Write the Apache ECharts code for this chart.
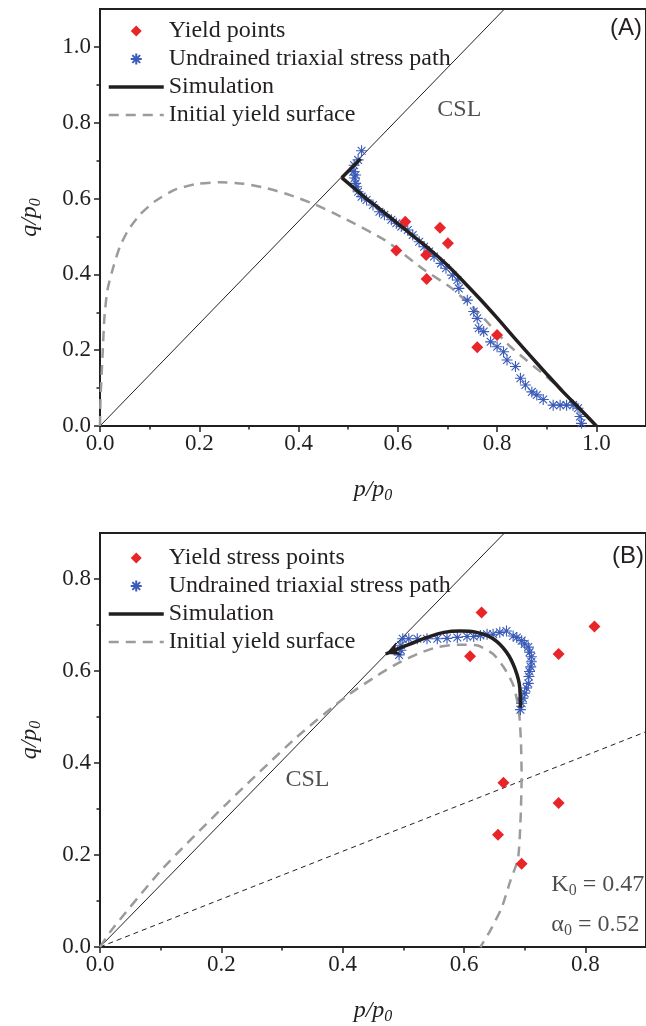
<!DOCTYPE html>
<html>
<head>
<meta charset="utf-8">
<script src="https://cdn.jsdelivr.net/npm/echarts@6/dist/echarts.min.js"></script>
<style>
  html, body { margin: 0; padding: 0; background: #fff; }
  #chart { width: 646px; height: 1026px; }
</style>
</head>
<body>
<div id="chart"></div>
<script>
// ---------- (A) data ----------
const cslSlope = 1.35;

const yieldPointsA = [[0.615,0.539],[0.685,0.523],[0.701,0.482],[0.597,0.463],[0.657,0.451],[0.658,0.388],[0.80,0.240],[0.76,0.208]];

const stressPathA = [[0.970,0.007],[0.967,0.025],[0.963,0.047],[0.953,0.055],[0.940,0.055],[0.927,0.055],[0.913,0.055],
  [0.893,0.070],[0.880,0.082],[0.870,0.090],[0.857,0.108],[0.847,0.126],[0.837,0.157],[0.820,0.174],[0.813,0.196],
  [0.800,0.209],[0.787,0.222],[0.773,0.249],[0.763,0.258],[0.760,0.284],[0.753,0.302],[0.740,0.332],[0.723,0.363],
  [0.720,0.385],[0.710,0.398],[0.697,0.416],[0.687,0.429],[0.673,0.447],[0.663,0.460],[0.653,0.473],[0.643,0.486],
  [0.630,0.504],[0.620,0.517],[0.607,0.526],[0.597,0.535],[0.587,0.544],[0.573,0.557],[0.563,0.565],[0.550,0.583],
  [0.537,0.596],[0.527,0.605],[0.520,0.618],[0.517,0.631],[0.515,0.640],[0.513,0.654],[0.515,0.662],[0.510,0.671],
  [0.512,0.688],[0.520,0.702],[0.527,0.726]];

// loading branch up to the critical state, then the short climb along the CSL
const simulationA = [[1.000,0.000],[0.967,0.045],[0.933,0.090],[0.900,0.137],[0.867,0.185],[0.833,0.235],[0.800,0.285],
  [0.767,0.333],[0.733,0.380],[0.700,0.424],[0.667,0.463],[0.633,0.499],[0.600,0.534],[0.567,0.569],[0.533,0.604],
  [0.487,0.655],[0.525,0.705]];

const initialYieldA = [[0,0],[0.001,0.070],[0.005,0.183],[0.009,0.288],[0.015,0.359],[0.027,0.420],[0.040,0.473],
  [0.057,0.517],[0.080,0.557],[0.110,0.592],[0.150,0.623],[0.197,0.639],[0.243,0.643],[0.290,0.639],[0.337,0.627],
  [0.383,0.609],[0.434,0.584],[0.487,0.551],[0.573,0.491],[0.653,0.412],[0.707,0.365],[0.760,0.302],[0.827,0.209],
  [0.913,0.115],[0.973,0.035],[1.000,0.000]];

// ---------- (B) data ----------
const alpha0 = 0.52;

const yieldPointsB = [[0.629,0.727],[0.815,0.697],[0.756,0.637],[0.610,0.632],[0.665,0.357],[0.756,0.313],[0.656,0.244],[0.695,0.181]];

const stressPathB = [[0.693,0.516],[0.695,0.530],[0.697,0.541],[0.700,0.552],[0.703,0.563],[0.706,0.573],[0.707,0.588],
  [0.708,0.599],[0.710,0.609],[0.711,0.620],[0.711,0.631],[0.708,0.641],[0.706,0.652],[0.700,0.659],[0.695,0.666],
  [0.687,0.673],[0.681,0.676],[0.670,0.687],[0.659,0.684],[0.648,0.680],[0.638,0.680],[0.627,0.677],[0.616,0.675],
  [0.605,0.675],[0.589,0.673],[0.572,0.671],[0.556,0.670],[0.539,0.670],[0.523,0.670],[0.509,0.670],[0.499,0.670],
  [0.496,0.656],[0.496,0.645],[0.493,0.635]];

const simulationB = [[0.693,0.520],[0.692,0.563],[0.684,0.605],[0.670,0.641],[0.648,0.670],[0.621,0.684],[0.594,0.687],
  [0.567,0.684],[0.539,0.673],[0.512,0.659],[0.485,0.645],[0.471,0.637]];

const initialYieldB = [[0,0],[0.022,0.042],[0.103,0.170],[0.210,0.313],[0.324,0.456],[0.406,0.545],[0.458,0.591],
  [0.490,0.616],[0.523,0.637],[0.556,0.652],[0.589,0.657],[0.621,0.656],[0.648,0.637],[0.667,0.605],[0.681,0.570],
  [0.689,0.527],[0.692,0.491],[0.694,0.441],[0.695,0.370],[0.693,0.270],[0.689,0.192],[0.676,0.142],[0.662,0.085],
  [0.643,0.035],[0.627,0.000]];

// ---------- axis ticks ----------
const pTicksA = [0, 0.2, 0.4, 0.6, 0.8, 1.0];
const pMinorA = [0.1, 0.3, 0.5, 0.7, 0.9];
const qTicksA = [0, 0.2, 0.4, 0.6, 0.8, 1.0];
const qMinorA = [0.1, 0.3, 0.5, 0.7, 0.9];
const pTicksB = [0, 0.2, 0.4, 0.6, 0.8];
const pMinorB = [0.1, 0.3, 0.5, 0.7];
const qTicksB = [0, 0.2, 0.4, 0.6, 0.8];
const qMinorB = [0.1, 0.3, 0.5, 0.7];

// ---------- styling ----------
const INK = '#231f20';
const RED = '#e8262a';
const BLUE = '#3a5bb8';
const GREY = '#9b9b9b';
const SERIF = 'Liberation Serif';
const ASTERISK = 'path://M0,-10L0,10M-10,0L10,0M-7.07,-7.07L7.07,7.07M-7.07,7.07L7.07,-7.07';
const DIAMOND = 'path://M0,-10L10,0L0,10L-10,0Z';

const nameRich = {
  i: { fontFamily: SERIF, fontStyle: 'italic', fontSize: 24, color: INK },
  s: { fontFamily: SERIF, fontStyle: 'italic', fontSize: 16, color: INK, verticalAlign: 'bottom', padding: [12, 0, 0, 0] }
};
const noteRich = {
  t: { fontFamily: SERIF, fontSize: 24, color: INK },
  s: { fontFamily: SERIF, fontSize: 16, color: INK, verticalAlign: 'bottom', padding: [12, 0, 0, 0] }
};

function axisPair(dim, gridIndex, max, major, minor, name) {
  const main = {
    type: 'value', gridIndex, min: 0, max,
    position: dim === 'x' ? 'bottom' : 'left',
    name, nameLocation: 'middle', nameGap: dim === 'x' ? 50 : 56,
    nameTextStyle: { rich: nameRich },
    axisLine: { show: true, lineStyle: { color: INK, width: 2 } },
    axisTick: { show: true, inside: false, length: 6, lineStyle: { color: INK, width: 1.5 }, customValues: major },
    axisLabel: {
      show: true, customValues: major, margin: dim === 'x' ? 6 : 9,
      fontFamily: SERIF, fontSize: 23, color: INK,
      formatter: v => Number(v).toFixed(1)
    },
    splitLine: { show: false }
  };
  const minorAxis = {
    type: 'value', gridIndex, min: 0, max,
    position: dim === 'x' ? 'bottom' : 'left',
    axisLine: { show: false },
    axisTick: { show: true, inside: false, length: 3.5, lineStyle: { color: INK, width: 1.5 }, customValues: minor },
    axisLabel: { show: false },
    splitLine: { show: false }
  };
  return [main, minorAxis];
}

const P_NAME = '{i|p/p}{s|0}';
const Q_NAME = '{i|q/p}{s|0}';

const xAxes = [
  ...axisPair('x', 0, 1.1, pTicksA, pMinorA, P_NAME),
  ...axisPair('x', 1, 0.9, pTicksB, pMinorB, P_NAME)
];
const yAxes = [
  ...axisPair('y', 0, 1.1, qTicksA, qMinorA, Q_NAME),
  ...axisPair('y', 1, 0.9, qTicksB, qMinorB, Q_NAME)
];

function lineThrough(slope, pMax, qMax) {
  const pEnd = Math.min(pMax, qMax / slope);
  return [[0, 0], [pEnd, slope * pEnd]];
}

const SIM_STYLE = { color: INK, width: 3.5, cap: 'butt', join: 'miter' };
const HIDDEN_ITEM = { color: 'rgba(0,0,0,0)', borderColor: 'rgba(0,0,0,0)', opacity: 0 };

function panelSeries(ax, d) {
  const base = { xAxisIndex: ax, yAxisIndex: ax };
  const list = [
    Object.assign({
      name: 'CSL line', type: 'line', data: d.csl, symbol: 'none', z: 1,
      lineStyle: { color: INK, width: 1 }
    }, base),
    Object.assign({
      name: 'Initial yield surface', type: 'line', data: d.yieldSurface, symbol: 'none', smooth: 0.2, z: 2,
      lineStyle: { color: GREY, width: 2.5, type: [10, 7] }, itemStyle: HIDDEN_ITEM
    }, base),
    Object.assign({
      name: 'Undrained triaxial stress path', type: 'scatter', data: d.path, symbol: ASTERISK, symbolSize: 11, z: 3,
      itemStyle: { color: BLUE, borderColor: BLUE, borderWidth: 1.1, opacity: 1 }
    }, base),
    Object.assign({
      name: d.pointsName, type: 'scatter', data: d.points, symbol: DIAMOND, symbolSize: 12, z: 4,
      itemStyle: { color: RED, opacity: 1 }
    }, base)
  ];
  d.simParts.forEach(part => {
    list.push(Object.assign({
      name: 'Simulation', type: 'line', data: part.data, symbol: 'none', smooth: part.smooth, z: 5,
      lineStyle: SIM_STYLE, itemStyle: HIDDEN_ITEM
    }, base));
  });
  list.push(Object.assign({
    name: 'CSL text', type: 'scatter', data: [d.cslText], symbolSize: 0, z: 6,
    label: { show: true, position: 'inside', formatter: 'CSL', fontFamily: SERIF, fontSize: 24, color: INK }
  }, base));
  return list;
}

const seriesA = panelSeries(0, {
  csl: lineThrough(cslSlope, 1.1, 1.1),
  yieldSurface: initialYieldA,
  path: stressPathA,
  points: yieldPointsA,
  pointsName: 'Yield points',
  simParts: [
    { data: simulationA.slice(0, -1), smooth: 0.3 },
    { data: simulationA.slice(-2), smooth: false }
  ],
  cslText: [0.724, 0.834]
});

const seriesB = panelSeries(2, {
  csl: lineThrough(cslSlope, 0.9, 0.9),
  yieldSurface: initialYieldB,
  path: stressPathB,
  points: yieldPointsB,
  pointsName: 'Yield stress points',
  simParts: [{ data: simulationB, smooth: 0.4 }],
  cslText: [0.342, 0.364]
});

// extra marks of panel (B): inclined line through the origin, arrow head, parameter notes
seriesB.push(
  {
    name: 'alpha line', type: 'line', xAxisIndex: 2, yAxisIndex: 2, symbol: 'none', z: 1,
    data: lineThrough(alpha0, 0.9, 0.9),
    lineStyle: { color: INK, width: 1, type: [5, 4] }
  },
  {
    name: 'arrow', type: 'scatter', xAxisIndex: 2, yAxisIndex: 2, z: 6,
    data: [simulationB[simulationB.length - 1]],
    symbol: 'arrow', symbolSize: [10, 14], symbolRotate: 113,
    itemStyle: { color: INK, opacity: 1 }
  },
  {
    name: 'notes', type: 'scatter', xAxisIndex: 2, yAxisIndex: 2, symbolSize: 0, z: 6,
    data: [
      { value: [0.744, 0.135], label: { formatter: '{t|K}{s|0}{t| = 0.47}' } },
      { value: [0.744, 0.049], label: { formatter: '{t|α}{s|0}{t| = 0.52}' } }
    ],
    label: { show: true, position: 'right', distance: 0, rich: noteRich }
  }
);

function legendFor(top, pointsName) {
  return {
    orient: 'vertical', left: 107, top, padding: 0,
    itemWidth: 55, itemHeight: 11, itemGap: 4,
    selectedMode: false, symbolKeepAspect: true,
    textStyle: { fontFamily: SERIF, fontSize: 24, color: INK },
    data: [
      { name: pointsName },
      { name: 'Undrained triaxial stress path' },
      { name: 'Simulation', lineStyle: { width: 3.5 }, itemStyle: HIDDEN_ITEM },
      { name: 'Initial yield surface', lineStyle: { width: 2.5 }, itemStyle: HIDDEN_ITEM }
    ]
  };
}

const chart = echarts.init(document.getElementById('chart'), null, { renderer: 'canvas' });
chart.setOption({
  animation: false,
  backgroundColor: '#fff',
  title: [
    { text: '(A)', left: 610, top: 16, padding: 0, textStyle: { fontFamily: 'Liberation Sans', fontSize: 24, fontWeight: 'normal', color: INK } },
    { text: '(B)', left: 612, top: 544, padding: 0, textStyle: { fontFamily: 'Liberation Sans', fontSize: 24, fontWeight: 'normal', color: INK } }
  ],
  grid: [
    { left: 100, top: 9, width: 550, height: 417, show: true, borderColor: INK, borderWidth: 2, backgroundColor: 'transparent' },
    { left: 100, top: 533, width: 550, height: 420, show: true, borderColor: INK, borderWidth: 2, backgroundColor: 'transparent' }
  ],
  legend: [
    legendFor(19, 'Yield points'),
    legendFor(546, 'Yield stress points')
  ],
  xAxis: xAxes,
  yAxis: yAxes,
  series: [...seriesA, ...seriesB]
});
</script>
</body>
</html>
